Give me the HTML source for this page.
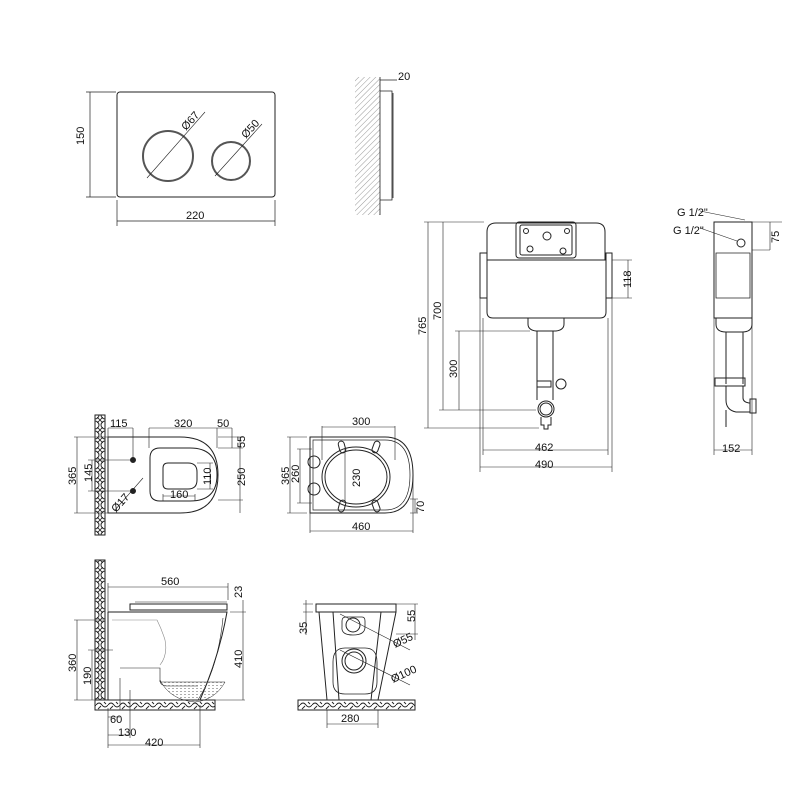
<!DOCTYPE html>
<html><head><meta charset="utf-8"><style>
html,body{margin:0;padding:0;background:#fff;width:800px;height:800px;overflow:hidden}
svg text{font-family:"Liberation Sans",sans-serif;font-size:11px;fill:#111}
</style></head><body>
<svg width="800" height="800" viewBox="0 0 800 800" xmlns="http://www.w3.org/2000/svg">
<defs>
<pattern id="h" width="4" height="4" patternUnits="userSpaceOnUse" patternTransform="rotate(45)"><line x1="0" y1="0" x2="0" y2="4" stroke="#999" stroke-width="1"/></pattern>
<pattern id="st" width="10" height="10" patternUnits="userSpaceOnUse"><rect width="10" height="10" fill="#fff"/><circle cx="5" cy="5" r="4" fill="none" stroke="#222" stroke-width="1"/><path d="M0 0L3 3M10 0L7 3M0 10L3 7M10 10L7 7" stroke="#222" stroke-width="0.8"/></pattern>
<pattern id="fl" width="12" height="10" patternUnits="userSpaceOnUse"><rect width="12" height="10" fill="#fff"/><path d="M0 5Q3 1 6 5T12 5M2 9L5 6M8 2L10 4" stroke="#222" fill="none" stroke-width="0.9"/></pattern>
<pattern id="wt" width="4" height="3" patternUnits="userSpaceOnUse"><path d="M0 1.5h2" stroke="#777" stroke-width="0.6"/></pattern>
</defs>
<g fill="none" stroke="#222" stroke-width="1">
<!-- flush plate -->
<rect x="117" y="92" width="158" height="105" rx="3"/>
<circle cx="168" cy="156" r="25" stroke-width="2" stroke="#555"/>
<circle cx="231" cy="161" r="19" stroke-width="2" stroke="#555"/>
<path d="M147 178L205 112M215 176L262 124" stroke-width="0.6"/>
<path d="M90 92V197M86 92h30M86 197h30M117 200v26M275 200v26M117 221H275" stroke-width="0.7"/>
<rect x="355" y="77" width="25" height="138" fill="url(#h)" stroke="none"/>
<path d="M380 77V215M380 91h12v109h-12M393 93v105M380 80h17M393 80h0" stroke-width="0.8"/>
<!-- cistern -->
<path d="M487 260V232q0-9 9-9h100q9 0 9 9v28" />
<rect x="516" y="222" width="60" height="36" rx="3"/>
<rect x="520" y="225" width="52" height="30" rx="2"/>
<circle cx="547" cy="236" r="4"/><circle cx="526" cy="231" r="2.5"/><circle cx="567" cy="231" r="2.5"/><circle cx="530" cy="249" r="3"/><circle cx="563" cy="251" r="3"/>
<path d="M487 260h119v52q0 6-6 6H493q-6 0-6-6z"/>
<path d="M480 253h7v45h-7zM606 253h6v45h-6z"/>
<path d="M528 318v6q0 6 8 7h20q8-1 8-7v-6M537 331v69M553 331v69"/>
<rect x="537" y="381" width="14" height="6"/><circle cx="561" cy="384" r="5"/>
<circle cx="546" cy="409" r="8"/><circle cx="546" cy="409" r="6"/>
<path d="M541 417v8h3v4h4v-4h3v-8"/>
<path d="M428 222V428M424 222h60M424 428h115M443 222V410M439 410h97M459 331V410M455 331h75M628 260V298M612 260h20M612 298h20" stroke-width="0.6"/>
<path d="M483 318V455M608 318V455M480 298V472M612 298V472M483 450H608M480 467H612" stroke-width="0.6"/>
<!-- side view cistern -->
<path d="M714 222h38v96h-38z"/><path d="M716 253h34v45h-34z" stroke-width="0.8"/>
<path d="M716 318v6q0 8 10 8h16q10 0 10-8v-6M726 332v52M743 332v52"/>
<rect x="715" y="378" width="30" height="8"/>
<path d="M726 386v14q0 10 10 12h14M743 386v12q0 4 6 5h1M750 399h6v14h-6z"/>
<path d="M726 410v17"/>
<circle cx="741" cy="243" r="4"/>
<path d="M700 211L745 220M700 228L737 241M752 222h30M752 250h18M770 222V250M714 318V455M752 318V455M714 450H752" stroke-width="0.6"/>
<!-- top view toilet -->
<rect x="95" y="415" width="10" height="120" fill="url(#st)"/>
<path d="M108 437H180q38 0 38 38q0 38-38 38H108z"/>
<path d="M160 448h30q27 0 27 27q0 26-27 26h-30q-10 0-10-10v-33q0-10 10-10z"/>
<path d="M168 463h20q9 0 9 9v8q0 9-9 9h-20q-5 0-5-5v-16q0-5 5-5z"/>
<circle cx="133" cy="460" r="2.5" fill="#222"/><circle cx="133" cy="491" r="2.5" fill="#222"/>
<path d="M108 428V437M133 428V460M108 428H133M149 428V448M217 428V448M149 428H217M232 428V448M217 428H232M240 437V513M218 437h25M218 448h25M240 448V500M218 500h25M210 463V489M197 463h16M197 489h16M163 494V501M195 494V501M163 496H195M77 437V513M74 437h34M74 513h34M92 460V491M88 460h45M88 491h45M115 510L143 478" stroke-width="0.6"/>
<!-- seat view -->
<path d="M310 437h75q28 0 28 38q0 38-28 38H310z"/>
<path d="M313 440h72q25 0 25 35q0 35-25 35H313z" stroke-width="0.7"/>
<ellipse cx="356" cy="477" rx="34" ry="30"/><ellipse cx="356" cy="477" rx="31" ry="27"/>
<circle cx="314" cy="462" r="6"/><circle cx="314" cy="489" r="6"/>
<rect x="339" y="441" width="6" height="12" rx="3" transform="rotate(-15 342 447)"/><rect x="373" y="441" width="6" height="12" rx="3" transform="rotate(20 376 447)"/>
<rect x="339" y="500" width="6" height="12" rx="3" transform="rotate(15 342 506)"/><rect x="373" y="500" width="6" height="12" rx="3" transform="rotate(-20 376 506)"/>
<path d="M290 437V513M287 437h20M287 513h20M300 449V503M297 449h15M297 503h15M345 449V503M322 426V460M395 426V460M322 427H395M310 513V533M413 475V533M310 531H413M410 499h8M410 513h8M415 499V513" stroke-width="0.6"/>
<!-- side view toilet -->
<rect x="95" y="560" width="10" height="145" fill="url(#st)"/>
<rect x="95" y="700" width="120" height="10" fill="url(#fl)"/>
<path d="M108 612H227q-8 45-27 88M108 612V700M130 604h97v6H130z"/>
<path d="M135 602h92" stroke-width="0.6"/>
<path d="M112 620h45q5 10 8 20q3 15-5 25" stroke-width="0.6" stroke="#888"/>
<path d="M223 618q-5 50-25 82" stroke-width="0.6"/>
<path d="M120 668h40v12q0 6 8 6h30" stroke-width="0.6"/>
<path d="M160 680q10 20 35 22q20-2 30-20h-65z" fill="url(#wt)" stroke-width="0.5"/>
<path d="M108 587H228M108 583V612M228 583V600M243 600V612M243 612V700M230 612h16M205 700h40M77 620V700M74 620h30M74 700h30M92 650V700M88 650h25M120 678V710M108 708V720M108 717H120M108 735H130M130 690V738M108 745H200M200 705V748M108 710V748" stroke-width="0.6"/>
<!-- front view -->
<rect x="298" y="700" width="117" height="10" fill="url(#fl)"/>
<path d="M316 604h80v8h-80z"/><path d="M319 612L327 700M396 612L378 700M333 612L339 700M381 612L371 700"/>
<path d="M346 617h16q3 0 3 4v6q0 8-12 8q-12 0-11-8v-6q0-4 4-4z" stroke-width="0.8"/>
<circle cx="353" cy="625" r="7"/>
<path d="M345 648h20q12 0 12 14v20q0 12-12 12h-20q-12 0-12-12v-20q0-14 12-14z" stroke-width="0.8"/>
<circle cx="354" cy="661" r="12"/><circle cx="354" cy="661" r="9"/>
<path d="M306 600V635M303 604h10M303 612h10M415 604V640M396 604h22M396 634h22M340 614L410 650M340 650L410 685M327 710V728M378 710V728M327 724H378" stroke-width="0.6"/>
</g>
<text x="84" y="145" transform="rotate(-90 84 145)" font-size="12">150</text>
<text x="186" y="219" font-size="12">220</text>
<text x="186" y="131" transform="rotate(-48 186 131)" font-size="12">Ø67</text>
<text x="246" y="139" transform="rotate(-48 246 139)" font-size="12">Ø50</text>
<text x="398" y="80" font-size="12">20</text>
<text x="426" y="335" transform="rotate(-90 426 335)" font-size="12">765</text>
<text x="441" y="320" transform="rotate(-90 441 320)" font-size="12">700</text>
<text x="457" y="378" transform="rotate(-90 457 378)" font-size="12">300</text>
<text x="631" y="288" transform="rotate(-90 631 288)" font-size="12">118</text>
<text x="535" y="451" font-size="12">462</text>
<text x="535" y="468" font-size="12">490</text>
<text x="677" y="216">G 1/2"</text>
<text x="673" y="234">G 1/2"</text>
<text x="779" y="243" transform="rotate(-90 779 243)" font-size="12">75</text>
<text x="722" y="452" font-size="12">152</text>
<text x="110" y="427" font-size="10">115</text>
<text x="174" y="427" font-size="10">320</text>
<text x="217" y="427" font-size="10">50</text>
<text x="245" y="448" transform="rotate(-90 245 448)" font-size="10">55</text>
<text x="245" y="486" transform="rotate(-90 245 486)" font-size="10">250</text>
<text x="211" y="485" transform="rotate(-90 211 485)" font-size="10">110</text>
<text x="170" y="498" font-size="10">160</text>
<text x="76" y="485" transform="rotate(-90 76 485)" font-size="10">365</text>
<text x="92" y="482" transform="rotate(-90 92 482)" font-size="10">145</text>
<text x="116" y="513" transform="rotate(-48 116 513)" font-size="10">Ø17</text>
<text x="352" y="425" font-size="10">300</text>
<text x="352" y="530" font-size="10">460</text>
<text x="289" y="485" transform="rotate(-90 289 485)" font-size="10">365</text>
<text x="299" y="483" transform="rotate(-90 299 483)" font-size="10">260</text>
<text x="360" y="487" transform="rotate(-90 360 487)" font-size="10">230</text>
<text x="424" y="513" transform="rotate(-90 424 513)" font-size="10">70</text>
<text x="161" y="585" font-size="10">560</text>
<text x="242" y="598" transform="rotate(-90 242 598)" font-size="10">23</text>
<text x="242" y="668" transform="rotate(-90 242 668)" font-size="10">410</text>
<text x="76" y="672" transform="rotate(-90 76 672)" font-size="10">360</text>
<text x="91" y="685" transform="rotate(-90 91 685)" font-size="10">190</text>
<text x="110" y="723" font-size="10">60</text>
<text x="118" y="736" font-size="10">130</text>
<text x="145" y="746" font-size="10">420</text>
<text x="307" y="634" transform="rotate(-90 307 634)" font-size="10">35</text>
<text x="415" y="622" transform="rotate(-90 415 622)" font-size="10">55</text>
<text x="395" y="648" transform="rotate(-25 395 648)" font-size="10">Ø55</text>
<text x="393" y="683" transform="rotate(-25 393 683)" font-size="10">Ø100</text>
<text x="341" y="722" font-size="10">280</text>
</svg>
</body></html>
